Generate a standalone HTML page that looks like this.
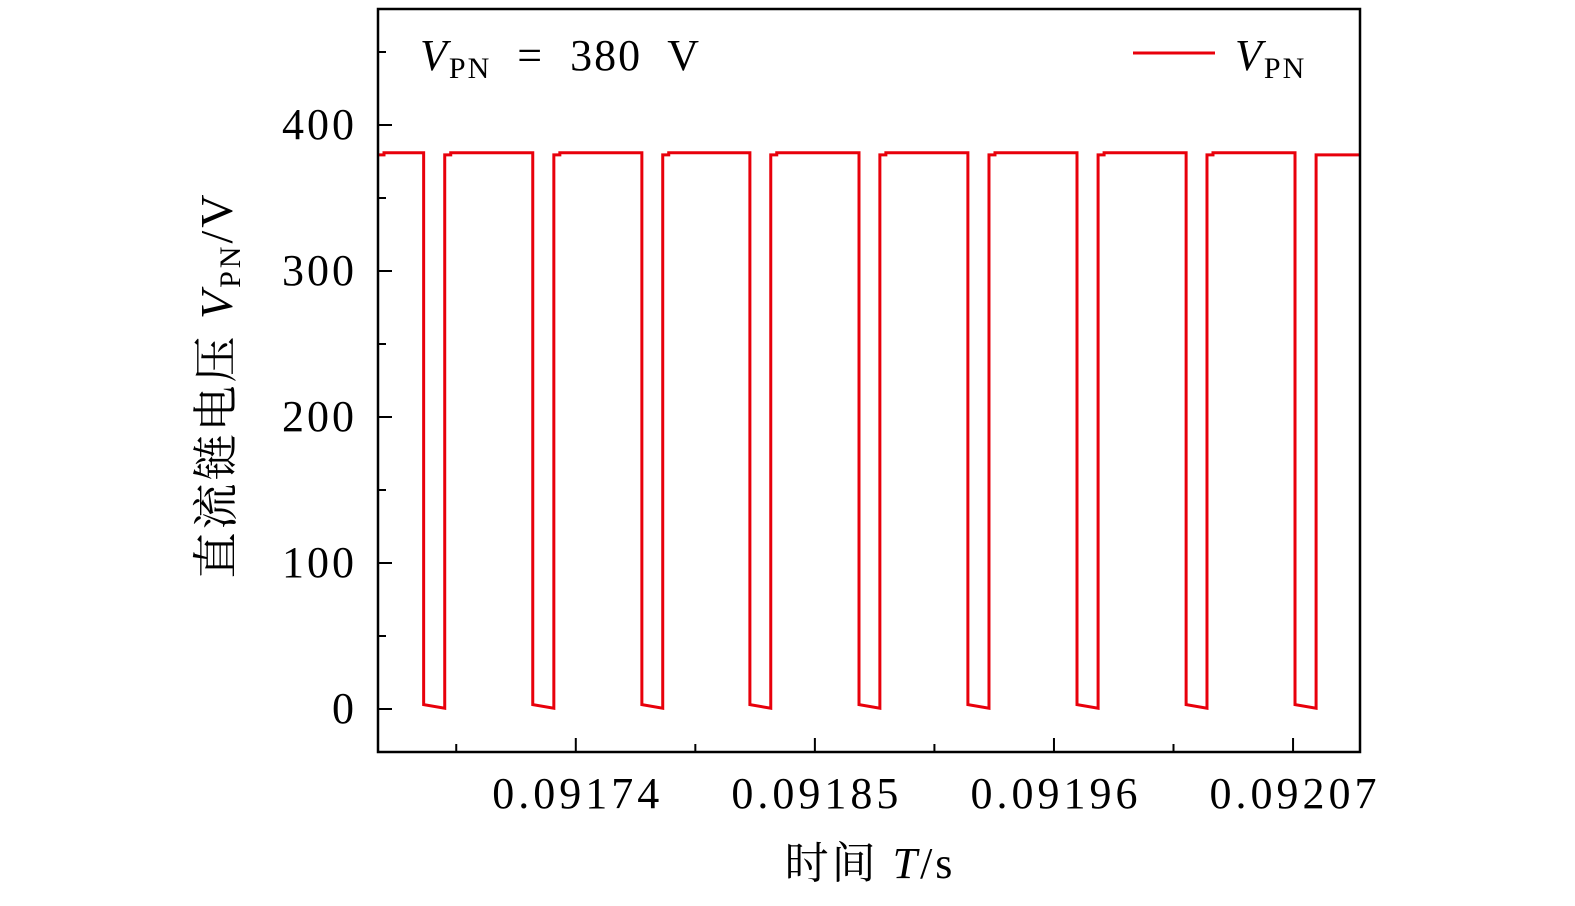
<!DOCTYPE html>
<html><head><meta charset="utf-8"><style>
html,body{margin:0;padding:0;background:#fff;}
svg{display:block;font-family:"Liberation Serif","Noto Serif CJK SC",serif;}
</style></head><body>
<svg id="chart" width="1575" height="906" viewBox="0 0 1575 906">
<g id="marks"></g>
<rect x="378" y="9" width="982" height="743" fill="none" stroke="#000" stroke-width="2.5"/>
<g id="axes"></g>
<text x="420" y="70" font-size="44" letter-spacing="2"><tspan font-style="italic">V</tspan><tspan font-size="30" dy="8">PN</tspan><tspan dy="-8" xml:space="preserve">  =  380  V</tspan></text>
<line x1="1133" y1="53" x2="1215" y2="53" stroke="#e8000b" stroke-width="3"/>
<text x="1235" y="70" font-size="44" letter-spacing="2"><tspan font-style="italic">V</tspan><tspan font-size="30" dy="8">PN</tspan></text>
<text transform="translate(232,385) rotate(-90)" text-anchor="middle" font-size="46" letter-spacing="3">直流链电压 <tspan font-style="italic">V</tspan><tspan font-size="30" dy="8">PN</tspan><tspan dy="-8">/V</tspan></text>
<text x="870" y="878" text-anchor="middle" font-size="44" letter-spacing="3">时间 <tspan font-style="italic">T</tspan>/s</text>
</svg>
<script>
const yTicks=[0,100,200,300,400];
const yMinor=[50,150,250,350,450];
const xTicks=[0.09174,0.09185,0.09196,0.09207];
const xTickLabels=["0.09174","0.09185","0.09196","0.09207"];
const xMinor=[0.091685,0.091795,0.091905,0.092015];
const fallTimes=[0.091670,0.0917202,0.0917704,0.0918201,0.0918703,0.0919204,0.0919706,0.0920208,0.0920709];
const riseTimes=[0.0916797,0.0917299,0.09178,0.0918297,0.0918799,0.0919301,0.0919803,0.0920304,0.0920806];
const highStart=379.5, highEnd=381, lowStart=3, lowEnd=0.5;
const xMin=0.0916490, xMax=0.0921008;
const X=t=>378+(t-xMin)/(xMax-xMin)*982;
const Y=v=>709-v*1.46;
const NS="http://www.w3.org/2000/svg";
const axes=document.getElementById('axes'), marks=document.getElementById('marks');
function mk(tag,attrs,parent){const e=document.createElementNS(NS,tag);for(const k in attrs)e.setAttribute(k,attrs[k]);parent.appendChild(e);return e;}
yTicks.forEach(v=>{
 const l=mk('line',{x1:378,x2:392,y1:Y(v),y2:Y(v),stroke:'#000','stroke-width':2},axes);
 
 
 const t=mk('text',{x:357,y:Y(v)+14,'text-anchor':'end','font-size':44,'letter-spacing':3},axes);
 t.textContent=v;
 
 
});
yMinor.forEach(v=>{
 const l=mk('line',{x1:378,x2:386,y1:Y(v),y2:Y(v),stroke:'#000','stroke-width':2},axes);
 
 
});
xTicks.forEach((v,i)=>{
 const l=mk('line',{x1:X(v),x2:X(v),y1:752,y2:738,stroke:'#000','stroke-width':2},axes);
 
 
 const t=mk('text',{x:X(v)+2,y:808,'text-anchor':'middle','font-size':44,'letter-spacing':4},axes);
 t.textContent=xTickLabels[i];
 
 
});
xMinor.forEach(v=>{
 const l=mk('line',{x1:X(v),x2:X(v),y1:752,y2:744,stroke:'#000','stroke-width':2},axes);
 
 
});
let d=`M${X(xMin)},${Y(highStart)}`;
let prevRise=xMin;
for(let i=0;i<fallTimes.length;i++){
 const f=fallTimes[i], r=riseTimes[i];
 d+=` L${X(prevRise)+6},${Y(highStart)} L${X(prevRise)+6},${Y(highEnd)} L${X(f)},${Y(highEnd)} L${X(f)},${Y(lowStart)} L${X(r)},${Y(lowEnd)} L${X(r)},${Y(highStart)}`;
 prevRise=r;
}
d+=` L${X(xMax)},${Y(highStart)}`;
const p=mk('path',{d:d,fill:'none',stroke:'#e8000b','stroke-width':3,'stroke-linejoin':'miter'},marks);


</script>
</body></html>
